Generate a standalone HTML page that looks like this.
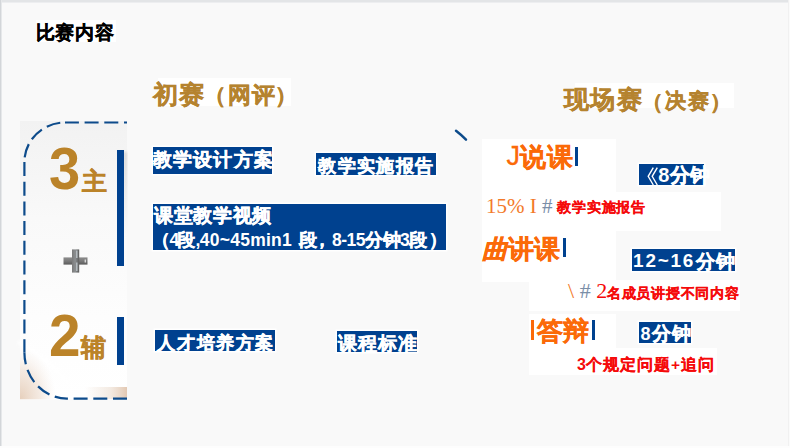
<!DOCTYPE html>
<html><head><meta charset="utf-8">
<style>
html,body{margin:0;padding:0;}
body{width:790px;height:448px;overflow:hidden;position:relative;background:#f9f9f9;font-family:"Liberation Sans",sans-serif;}
.a{position:absolute;white-space:nowrap;}
.w{position:absolute;background:#ffffff;}
.k{-webkit-text-stroke:0.4px currentColor;}
.l{-webkit-text-stroke:0;}
.blue{position:absolute;background:#00418f;color:#fff;font-weight:bold;white-space:nowrap;-webkit-text-stroke:0.45px #fff;box-shadow:0 0 0 1.5px #fff;}
.bar{position:absolute;background:#00418f;}
</style></head>
<body>
<!-- frame borders -->
<div class="a" style="left:0;top:0;width:790px;height:2px;background:#e3e5e7;"></div><div class="a" style="left:0;top:2px;width:790px;height:1px;background:#edeef0;"></div>
<div class="a" style="left:0;top:0;width:1px;height:448px;background:#d3d6d9;"></div><div class="a" style="left:1px;top:0;width:1px;height:448px;background:#e6e8ea;"></div>
<div class="a" style="left:788px;top:0;width:1px;height:448px;background:#f1f1f1;"></div><div class="a" style="left:789px;top:0;width:1px;height:448px;background:#fbfbfb;"></div>
<div class="a" style="left:0;top:446px;width:790px;height:2px;background:#fdfdfd;"></div>

<!-- title -->
<div class="w" style="left:36px;top:20px;width:80px;height:22px;"></div>
<div class="a" style="left:35.5px;top:22.8px;font-size:19px;line-height:19px;letter-spacing:0.8px;font-weight:bold;color:#000;-webkit-text-stroke:0.3px #000;">比赛内容</div>

<!-- headings -->
<div class="w" style="left:158px;top:77.8px;width:132.5px;height:28px;"></div>
<div class="a k" style="left:0;top:0;font-weight:bold;color:#b5832f;"><span style="position:absolute;left:152.5px;top:82.7px;font-size:24.8px;line-height:24.8px;letter-spacing:1.2px;">初赛</span><span style="position:absolute;left:203.8px;top:85px;font-size:22px;line-height:22px;letter-spacing:0px;">（</span><span style="position:absolute;left:227.6px;top:84.3px;font-size:22.8px;line-height:22.8px;letter-spacing:1.5px;">网评</span><span style="position:absolute;left:274.5px;top:85px;font-size:22px;line-height:22px;letter-spacing:0px;">）</span></div>
<div class="w" style="left:575.3px;top:82.6px;width:159px;height:25.4px;"></div>
<div class="a k" style="left:0;top:0;font-weight:bold;color:#b5832f;"><span style="position:absolute;left:563.6px;top:88px;font-size:24.8px;line-height:24.8px;letter-spacing:1.6px;">现场赛</span><span style="position:absolute;left:641.8px;top:91px;font-size:21px;line-height:21px;letter-spacing:0px;">（</span><span style="position:absolute;left:664.9px;top:89.8px;font-size:21px;line-height:21px;letter-spacing:2.6px;">决赛</span><span style="position:absolute;left:710.4px;top:91px;font-size:21px;line-height:21px;letter-spacing:0px;">）</span></div>

<!-- left box -->
<div class="a" style="left:20px;top:121px;width:107px;height:279px;background:linear-gradient(180deg,#f2f2f2 0%,#f9f9f9 35%,#fdfdfd 70%,#ffffff 100%);"></div>
<svg class="a" style="left:0;top:0;" width="790" height="448">
  <defs>
    <linearGradient id="tanL" x1="0" y1="0" x2="1" y2="0">
      <stop offset="0" stop-color="#e4cdb9" stop-opacity="1"/>
      <stop offset="1" stop-color="#ffffff" stop-opacity="0"/>
    </linearGradient>
    <linearGradient id="tanB" x1="0" y1="0" x2="1" y2="0">
      <stop offset="0" stop-color="#e8d6c6" stop-opacity="0"/>
      <stop offset="0.6" stop-color="#e8d6c6" stop-opacity="0.5"/>
      <stop offset="1" stop-color="#e3c8b2" stop-opacity="1"/>
    </linearGradient>
    <linearGradient id="barsh" x1="0" y1="0" x2="0" y2="1">
      <stop offset="0" stop-color="#b0b0b0" stop-opacity="0.8"/>
      <stop offset="1" stop-color="#d0d0d0" stop-opacity="0"/>
    </linearGradient>
  </defs>
  <filter id="bl1" x="-50%" y="-50%" width="200%" height="200%"><feGaussianBlur stdDeviation="3"/></filter>
  <filter id="bl2" x="-50%" y="-50%" width="200%" height="200%"><feGaussianBlur stdDeviation="1.5"/></filter>
  <radialGradient id="tanR" cx="20" cy="399" r="48" gradientUnits="userSpaceOnUse" gradientTransform="translate(20 399) scale(0.75 1.1) translate(-20 -399)">
      <stop offset="0" stop-color="#e6cfbb" stop-opacity="1"/>
      <stop offset="0.55" stop-color="#eddcce" stop-opacity="0.6"/>
      <stop offset="1" stop-color="#f4ece6" stop-opacity="0"/>
  </radialGradient>
  <rect x="20" y="340" width="50" height="59.5" fill="url(#tanR)"/>
  <path d="M18 342 Q40 352 68 382" fill="none" stroke="#ffffff" stroke-width="4" filter="url(#bl2)" opacity="0.85"/>
  <rect x="20" y="399.5" width="107" height="3" fill="#f9f9f9"/>
  <rect x="85" y="387" width="42" height="12" fill="url(#tanB)"/>
  <rect x="124" y="152" width="2.5" height="86" fill="url(#barsh)" filter="url(#bl2)" opacity="0.8"/>
  <g fill="none" stroke="#0d4b8b" stroke-width="2.2" stroke-dasharray="14 5.7">
    <path d="M127 122.5 L65 122.5" stroke-dashoffset="11"/>
    <path d="M24.4 162 A40.6 39.5 0 0 1 65 122.5" stroke-dashoffset="15.1"/>
    <path d="M24.4 162 L24.4 352.5"/>
    <path d="M24.4 352.5 A42.6 46.1 0 0 0 67 398.6" stroke-dashoffset="2"/>
    <path d="M127 398.6 L67 398.6"/>
  </g>
  <path d="M456 130.7 Q461 134.5 466 139.6" fill="none" stroke="#0d4b8b" stroke-width="2.5" stroke-linecap="round"/>
</svg>

<div class="a" style="left:48.8px;top:140.3px;font-size:59px;line-height:59px;font-weight:bold;color:#bb8329;transform:scaleX(0.95);transform-origin:0 0;">3</div>
<div class="a k" style="left:81.5px;top:167.5px;font-size:25px;line-height:27px;font-weight:bold;color:#bb8329;">主</div>
<div class="bar" style="left:117px;top:150px;width:7px;height:115.5px;"></div>

<svg class="a" style="left:63px;top:249px;" width="25" height="24" viewBox="0 0 25 24">
  <defs>
    <linearGradient id="pv" x1="0" y1="0" x2="1" y2="0">
      <stop offset="0" stop-color="#7a7a7a"/><stop offset="0.45" stop-color="#8c8f91"/><stop offset="1" stop-color="#5c5c5c"/>
    </linearGradient>
    <linearGradient id="ph" x1="0" y1="0" x2="0" y2="1">
      <stop offset="0" stop-color="#8c8c8c"/><stop offset="0.5" stop-color="#7a7a7a"/><stop offset="1" stop-color="#5a5a5a"/>
    </linearGradient>
  </defs>
  <rect x="0.5" y="8.4" width="24" height="7.2" fill="url(#ph)"/>
  <rect x="9" y="0.4" width="7.2" height="23.2" fill="url(#pv)"/>
  <rect x="13.3" y="1.5" width="1.1" height="7.5" fill="#d4dde2" opacity="0.9"/><rect x="13.3" y="13.5" width="1.1" height="8.5" fill="#d4dde2" opacity="0.9"/>
  <rect x="21.6" y="10.5" width="1.4" height="3" fill="#d8d8d8"/>
</svg>

<div class="a" style="left:48.5px;top:306.5px;font-size:59px;line-height:59px;font-weight:bold;color:#bb8329;transform:scaleX(0.96);transform-origin:0 0;">2</div>
<div class="a k" style="left:80.5px;top:334px;font-size:25px;line-height:27px;font-weight:bold;color:#bb8329;">辅</div>
<div class="bar" style="left:117px;top:316.5px;width:7px;height:48.5px;"></div>

<!-- middle blue boxes -->
<div class="blue" style="left:152.6px;top:147.4px;width:119.4px;height:27.0px;"><span style="position:absolute;left:0px;top:4px;font-size:18.9px;line-height:18.9px;letter-spacing:1.27px;">教学设计方案</span></div>
<div class="blue" style="left:316.2px;top:153.3px;width:119.8px;height:21.7px;"><span style="position:absolute;left:2px;top:3.7px;font-size:18.1px;line-height:18.1px;letter-spacing:1.43px;">教学实施报告</span></div>
<div class="blue" style="left:152.5px;top:204px;width:293.5px;height:46px;">
  <span style="position:absolute;left:1.3px;top:3px;font-size:18.9px;line-height:18.9px;letter-spacing:0.73px;">课堂教学视频</span>
  <div class="a" style="left:0;top:24.5px;font-size:17.5px;line-height:22px;"><span style="position:absolute;left:-1px;">（<span class="l" style="letter-spacing:-2px;">4</span>段</span><span class="l" style="position:absolute;left:43px;">,</span><span class="l" style="position:absolute;left:47.3px;letter-spacing:0.25px;">40~45min1</span><span style="position:absolute;left:146.5px;">段</span><span style="position:absolute;left:160px;">，</span><span style="position:absolute;left:179.5px;letter-spacing:-0.5px;"><span class="l">8-15</span>分钟<span class="l">3</span>段</span><span style="position:absolute;left:276px;">）</span></div>
</div>
<div class="blue" style="left:155px;top:330.3px;width:120px;height:21.0px;overflow:hidden;"><span style="position:absolute;left:2.4px;top:3.7px;font-size:18px;line-height:18px;letter-spacing:1.58px;">人才培养方案</span></div>
<div class="blue" style="left:336.5px;top:331.3px;width:80.3px;height:21.1px;overflow:hidden;"><span style="position:absolute;left:1px;top:3.3px;font-size:18.5px;line-height:18.5px;letter-spacing:1.0px;">课程标准</span></div>

<!-- right column white boxes -->
<div class="w" style="left:481.5px;top:139px;width:134px;height:53px;"></div>
<div class="w" style="left:481.5px;top:192px;width:239.5px;height:39px;"></div>
<div class="w" style="left:481.5px;top:231px;width:134px;height:50.8px;"></div>
<div class="w" style="left:529px;top:280px;width:211px;height:31px;"></div>
<div class="w" style="left:529px;top:313.5px;width:87px;height:34.5px;"></div>
<div class="w" style="left:529px;top:348px;width:188px;height:26.5px;"></div>

<div class="a k" style="left:0;top:0;font-weight:bold;color:#fb6a08;"><span class="l" style="position:absolute;left:506.5px;top:142.5px;font-size:27px;line-height:27px;font-weight:normal;-webkit-text-stroke:0.3px currentColor;">J</span><span style="position:absolute;left:520px;top:144.5px;font-size:25.5px;line-height:25.5px;letter-spacing:0.5px;">说课</span></div>
<div class="bar" style="left:575.4px;top:146.5px;width:2.8px;height:19.4px;"></div>
<div class="blue" style="left:638.8px;top:163.9px;width:65.1px;height:21.2px;font-size:20px;line-height:23px;"><svg style="position:absolute;left:8px;top:3px;" width="12" height="19"><path d="M6.3 0.7 L1.2 9.3 L6.3 18 M10.3 0.7 L5.2 9.3 L10.3 18" fill="none" stroke="#fff" stroke-width="1.4"/></svg><span class="l" style="position:absolute;left:19.5px;top:0;">8</span><span style="position:absolute;left:31px;top:0;">分钟</span></div>

<div class="a" style="left:486px;top:194px;font-family:'Liberation Serif',serif;font-size:21px;line-height:24px;color:#f37a2a;">15% I <span style="color:#7a8ea8">#</span></div>
<div class="a" style="-webkit-text-stroke:0.2px currentColor;left:557.2px;top:201.3px;font-size:13.6px;line-height:13.6px;letter-spacing:0.8px;font-weight:bold;color:#f50a0a;">教学实施报告</div>

<div class="a k" style="left:482px;top:234.5px;font-size:25.5px;line-height:29px;font-weight:bold;color:#fb6a08;"><span style="font-style:italic">曲</span>讲课</div>
<div class="bar" style="left:563px;top:238px;width:2.7px;height:19px;"></div>
<div class="blue" style="left:632.3px;top:249.4px;width:102.8px;height:21.3px;overflow:hidden;"><span class="l" style="position:absolute;left:0.8px;top:2.2px;font-size:18.9px;line-height:18.9px;letter-spacing:1.8px;">12~16</span><span style="position:absolute;left:63.6px;top:3.6px;font-size:18.5px;line-height:18.5px;letter-spacing:1.0px;">分钟</span></div>

<div class="a" style="left:568px;top:279px;font-family:'Liberation Serif',serif;font-size:22px;line-height:24px;color:#f37a2a;">\ <span style="color:#7a8ea8">#</span> <span style="color:#f50a0a">2</span></div>
<div class="a" style="-webkit-text-stroke:0.2px currentColor;left:606.8px;top:286px;font-size:14px;line-height:14px;letter-spacing:0.76px;font-weight:bold;color:#f50a0a;">名成员讲授不同内容</div>

<div class="bar" style="left:531.4px;top:319.9px;width:2.6px;height:19.7px;background:#fb6a08;"></div>
<div class="a k" style="left:536.5px;top:315.5px;font-size:26px;line-height:30px;font-weight:bold;color:#fb6a08;">答辩</div>
<div class="bar" style="left:591.8px;top:319.9px;width:3px;height:19.7px;"></div>
<div class="blue" style="left:639.3px;top:322px;width:52.1px;height:21.1px;overflow:hidden;"><span class="l" style="position:absolute;left:1.2px;top:2.5px;font-size:18px;line-height:18px;letter-spacing:0px;">8</span><span style="position:absolute;left:12.8px;top:2.8px;font-size:18.6px;line-height:18.6px;letter-spacing:0.6px;">分钟</span></div>

<div class="a" style="-webkit-text-stroke:0.2px currentColor;left:577px;top:357.2px;font-size:15.5px;line-height:15.5px;letter-spacing:0.9px;font-weight:bold;color:#f50a0a;"><span class="l" style="font-size:16px;letter-spacing:0;">3</span>个规定问题<span class="l" style="letter-spacing:1.5px;margin-left:0.5px;">+</span>追问</div>
</body></html>
